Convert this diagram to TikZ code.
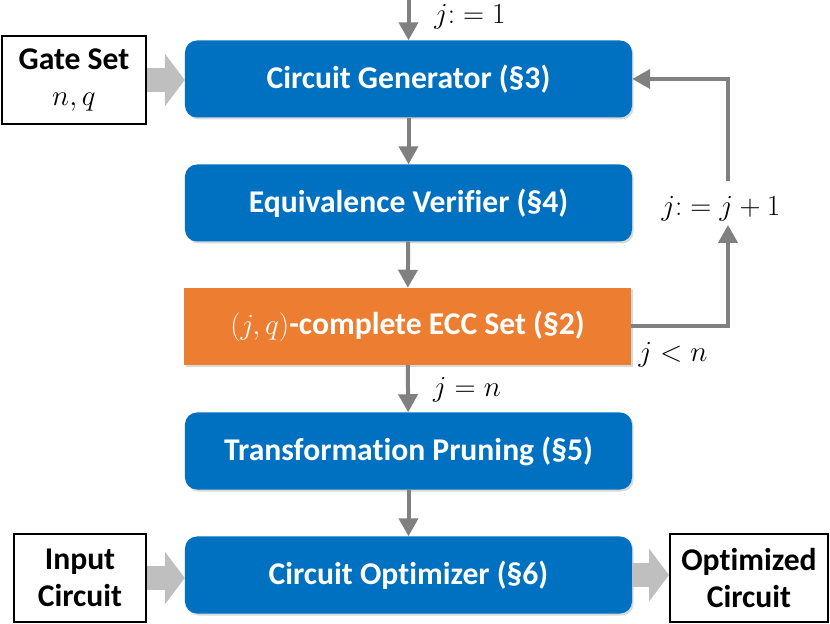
\documentclass[tikz,border=0pt]{standalone}
\usepackage{fontspec}
\setmainfont{Carlito}[Ligatures=NoCommon]
\usetikzlibrary{arrows.meta,shadows}
\definecolor{boxblue}{HTML}{0070C0}
\definecolor{boxorange}{HTML}{ED7D31}
\definecolor{linegray}{HTML}{808080}
\definecolor{fatgray}{HTML}{BFBFBF}

\begin{document}
\begin{tikzpicture}[x=0.03cm,y=-0.03cm,
  flow/.style={draw=linegray,line width=0.12cm,-{Triangle[width=0.57cm,length=0.54cm]}},
  fat/.style={draw=fatgray,line width=0.72cm,-{Triangle[width=1.56cm,length=0.6cm]}},
  stage/.style={rounded corners=0.36cm,fill=boxblue,text=white,minimum width=13.41cm,
    minimum height=2.31cm,font=\fontsize{27}{31}\selectfont\bfseries,
    drop shadow={opacity=0.3,shadow xshift=0.05cm,shadow yshift=-0.06cm}},
  io node/.style={draw=black,line width=0.06cm,fill=white,minimum height=2.64cm,
    align=center,font=\fontsize{27}{31}\selectfont\bfseries},
  lbl/.style={inner sep=0pt,font=\fontsize{27}{30}\selectfont}]

  \useasboundingbox (0,0) rectangle (830,624);

  \node[stage] at (408.5,79) (gen) {Circuit Generator (§3)};
  \node[stage] at (408.5,203) (ver) {Equivalence Verifier (§4)};
  \node[stage,rounded corners=0pt,fill=boxorange,drop shadow={opacity=0}] at (407.5,326.5) (ecc) {{\fontsize{30}{31}\selectfont$(j,q)$}-complete ECC Set (§2)};
  \node[stage] at (408.5,451) (prune) {Transformation Pruning (§5)};
  \node[stage] at (408.5,575) (opt) {Circuit Optimizer (§6)};

  \node[io node,minimum width=4.32cm] at (74,80) (gate) {Gate Set\\{\fontsize{32}{31}\selectfont$n,q$}};
  \node[io node,minimum width=3.96cm] at (80,578) (input) {Input\\Circuit};
  \node[io node,minimum width=4.74cm] at (749,578) (result) {Optimized\\Circuit};

  \coordinate (start) at (408.5,0);
  \coordinate (up) at (728,225);
  \coordinate (down) at (728,181);

  \node[lbl] at (470,17) (init) {$j{:}=1$};
  \node[lbl] at (721,209) (inc) {$j{:}=j+1$};
  \node[lbl] at (673,355) (less) {$j<n$};
  \node[lbl] at (467,390) (equal) {$j=n$};

  \draw[flow] (start) -- (gen);
  \draw[flow] (gen) -- (ver);
  \draw[flow] (ver) -- (ecc);
  \draw[flow] (ecc) -- (prune);
  \draw[flow] (prune) -- (opt);
  \draw[flow] (ecc.east) -| (up);
  \draw[flow] (down) |- (gen.east);

  \draw[fat] (gate.east) -- (gate.east -| gen.west);
  \draw[fat] (input.east) -- (input.east -| opt.west);
  \draw[fat] (opt.east) -- (opt.east -| result.west);
\end{tikzpicture}
\end{document}
